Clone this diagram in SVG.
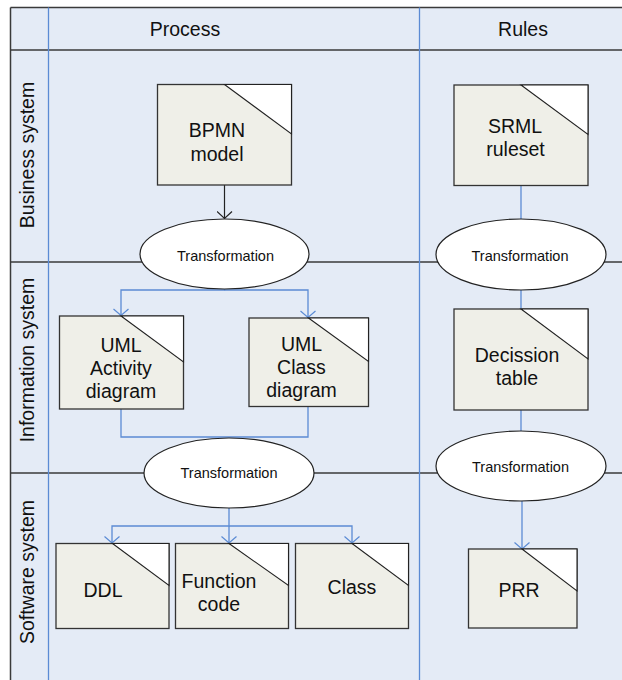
<svg xmlns="http://www.w3.org/2000/svg" width="622" height="680" viewBox="0 0 622 680">
<style>
text{font-family:"Liberation Sans",Arial,sans-serif;fill:#111;text-anchor:middle}
.lbl{font-size:19.5px}
.tr{font-size:14.5px}
.box{fill:#efefe8;stroke:#333;stroke-width:1.3}
.cor{fill:#fff;stroke:#222;stroke-width:1.1}
.ell{fill:#fff;stroke:#222;stroke-width:1.2}
.lane{stroke:#3a3a3a;stroke-width:1.5;fill:none}
.vl{stroke:#5b8bd4;stroke-width:1.3;fill:none}
.con{stroke:#5b8bd4;stroke-width:1.3;fill:none}
.blk{stroke:#222;stroke-width:1.2;fill:none}
</style>
<defs>
<marker id="ab" viewBox="-8 -7 9 8" refX="0" refY="0" markerWidth="9" markerHeight="8" markerUnits="userSpaceOnUse" orient="auto">
<path d="M-6.5,-7 L0,0 L-6.5,7" transform="rotate(0)" fill="none" stroke="#5b8bd4" stroke-width="1.2"/>
</marker>
<marker id="ak" viewBox="-8 -8 9 16" refX="0" refY="0" markerWidth="9" markerHeight="16" markerUnits="userSpaceOnUse" orient="auto">
<path d="M-7,-7.5 L0,0 L-7,7.5" fill="none" stroke="#222" stroke-width="1.2"/>
</marker>
<marker id="ab2" viewBox="-8 -8 9 16" refX="0" refY="0" markerWidth="9" markerHeight="16" markerUnits="userSpaceOnUse" orient="auto">
<path d="M-6.5,-7.5 L0,0 L-6.5,7.5" fill="none" stroke="#5b8bd4" stroke-width="1.2"/>
</marker>
</defs>
<g id="pool">
<rect x="10.5" y="7.5" width="612" height="673" fill="#e4ebf6"/>
<line class="lane" x1="10.5" y1="7.5" x2="622" y2="7.5"/>
<line class="lane" x1="10.5" y1="7.5" x2="10.5" y2="680"/>
<line class="lane" x1="10.5" y1="50" x2="622" y2="50"/>
<line class="lane" x1="10.5" y1="262" x2="622" y2="262"/>
<line class="lane" x1="10.5" y1="473" x2="622" y2="473"/>
<line class="vl" x1="48.5" y1="7.5" x2="48.5" y2="680"/>
<line class="vl" x1="419.5" y1="7.5" x2="419.5" y2="680"/>
<text class="lbl" x="185" y="36">Process</text>
<text class="lbl" x="523" y="36">Rules</text>
<text class="lbl" transform="translate(34,155) rotate(-90)">Business system</text>
<text class="lbl" transform="translate(34,360) rotate(-90)">Information system</text>
<text class="lbl" transform="translate(34,572) rotate(-90)">Software system</text>
</g>
<g id="connectors">
<path class="blk" d="M224.5,185 V218.5" marker-end="url(#ak)"/>
<path class="con" d="M224.5,289 V290 H121 V315.5" marker-end="url(#ab2)"/>
<path class="con" d="M224.5,290 H308 V317.5" marker-end="url(#ab2)"/>
<path class="con" d="M121,409 V437 H229"/>
<path class="con" d="M308,406 V437 H229"/>
<path class="con" d="M229,508 V526 H112 V543" marker-end="url(#ab2)"/>
<path class="con" d="M229,526 V543" marker-end="url(#ab2)"/>
<path class="con" d="M229,526 H352 V543" marker-end="url(#ab2)"/>
<path class="con" d="M521,186 V219"/>
<path class="con" d="M521,290 V309"/>
<path class="con" d="M521,410 V431"/>
<path class="con" d="M522,501 V549" marker-end="url(#ab2)"/>
</g>
<g id="bpmn">
<rect class="box" x="157.5" y="84.5" width="134" height="100.5"/>
<path class="cor" d="M224.5,84.5 H291.5 V134 Z"/>
<text class="lbl" x="217" y="136.5">BPMN</text>
<text class="lbl" x="217" y="160.5">model</text>
</g>
<g id="t1">
<ellipse class="ell" cx="224.5" cy="254" rx="84.5" ry="35"/>
<text class="tr" x="225.5" y="261">Transformation</text>
</g>
<g id="uml-activity">
<rect class="box" x="59.5" y="316" width="124" height="93"/>
<path class="cor" d="M121,316 H183.5 V362 Z"/>
<text class="lbl" x="121" y="351.5">UML</text>
<text class="lbl" x="121" y="375">Activity</text>
<text class="lbl" x="121" y="397.5">diagram</text>
</g>
<g id="uml-class">
<rect class="box" x="249" y="318" width="119.5" height="88.5"/>
<path class="cor" d="M308.5,318 H368.5 V361.5 Z"/>
<text class="lbl" x="301.5" y="350.5">UML</text>
<text class="lbl" x="301.5" y="373.5">Class</text>
<text class="lbl" x="301.5" y="397">diagram</text>
</g>
<g id="t2">
<ellipse class="ell" cx="229" cy="473" rx="85" ry="35"/>
<text class="tr" x="229" y="477.5">Transformation</text>
</g>
<g id="ddl">
<rect class="box" x="56" y="543.5" width="113" height="85"/>
<path class="cor" d="M112.5,543.5 H169 V585.5 Z"/>
<text class="lbl" x="103" y="596.5">DDL</text>
</g>
<g id="function-code">
<rect class="box" x="175.5" y="543.5" width="113" height="85"/>
<path class="cor" d="M229,543.5 H288.5 V585.5 Z"/>
<text class="lbl" x="219" y="587.5">Function</text>
<text class="lbl" x="219" y="611">code</text>
</g>
<g id="class">
<rect class="box" x="295.5" y="543.5" width="113" height="85"/>
<path class="cor" d="M352,543.5 H408.5 V585.5 Z"/>
<text class="lbl" x="352" y="593.5">Class</text>
</g>
<g id="srml">
<rect class="box" x="454" y="85" width="134" height="100.5"/>
<path class="cor" d="M521,85 H588 V134.5 Z"/>
<text class="lbl" x="515" y="132.5">SRML</text>
<text class="lbl" x="515.5" y="156">ruleset</text>
</g>
<g id="t3">
<ellipse class="ell" cx="521" cy="254.5" rx="85" ry="35.5"/>
<text class="tr" x="520" y="260.5">Transformation</text>
</g>
<g id="decission">
<rect class="box" x="454" y="309" width="134" height="101"/>
<path class="cor" d="M521,309 H588 V359 Z"/>
<text class="lbl" x="517" y="361.5">Decission</text>
<text class="lbl" x="517" y="385">table</text>
</g>
<g id="t4">
<ellipse class="ell" cx="521" cy="466" rx="85" ry="35"/>
<text class="tr" x="520.5" y="472">Transformation</text>
</g>
<g id="prr">
<rect class="box" x="468.5" y="549" width="108.5" height="79"/>
<path class="cor" d="M522,549 H577 V591 Z"/>
<text class="lbl" x="519" y="596.5">PRR</text>
</g>
</svg>
